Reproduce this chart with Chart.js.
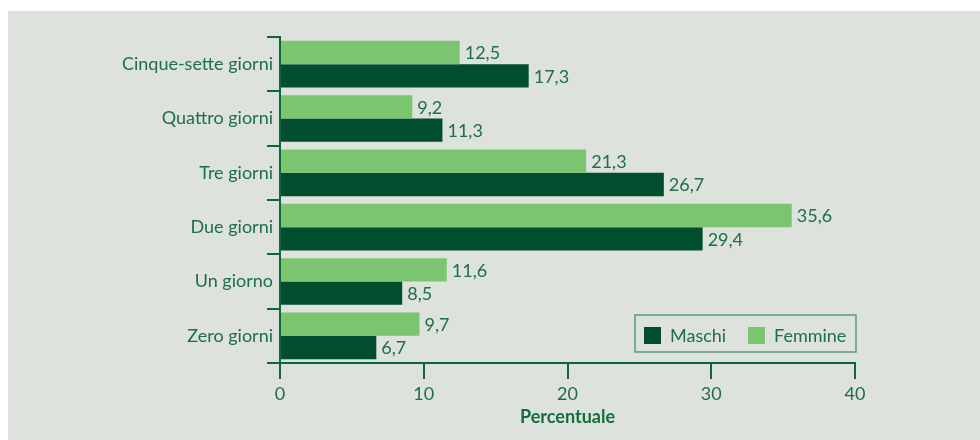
<!DOCTYPE html>
<html>
<head>
<meta charset="utf-8">
<script src="https://cdn.jsdelivr.net/npm/chart.js@4/dist/chart.umd.min.js"></script>
<style>
  html, body { margin: 0; padding: 0; background: #ffffff; }
  .panel { position: absolute; left: 8px; top: 11px; width: 972px; height: 429px; background: #dde2dc; }
</style>
</head>
<body>
<div class="panel">
  <canvas id="giorniChart" width="972" height="429"></canvas>
</div>
<script>
const categories = ['Cinque-sette giorni', 'Quattro giorni', 'Tre giorni', 'Due giorni', 'Un giorno', 'Zero giorni'];
const femmine = [12.5, 9.2, 21.3, 35.6, 11.6, 9.7];
const maschi = [17.3, 11.3, 26.7, 29.4, 8.5, 6.7];
const xTicks = [0, 10, 20, 30, 40];

const TEXT = '#1d6f45';
const AXIS = '#0a6a3a';
const FONT = 'Lato, "Open Sans", sans-serif';

const fmt = v => v.toFixed(1).replace('.', ',');

// numbers at the end of each bar
const valueLabels = {
  id: 'valueLabels',
  afterDatasetsDraw(chart) {
    const ctx = chart.ctx;
    ctx.save();
    ctx.font = '18px ' + FONT;
    ctx.fillStyle = TEXT;
    ctx.textAlign = 'left';
    ctx.textBaseline = 'middle';
    chart.data.datasets.forEach((ds, i) => {
      chart.getDatasetMeta(i).data.forEach((bar, j) => {
        ctx.fillText(fmt(ds.data[j]), bar.x + 5, bar.y + 1);
      });
    });
    ctx.restore();
  }
};

// boxed legend in the lower right corner of the plot
const boxLegend = {
  id: 'boxLegend',
  afterDraw(chart) {
    const ctx = chart.ctx;
    const area = chart.chartArea;
    const items = [chart.data.datasets[1], chart.data.datasets[0]];
    const w = 221, h = 37;
    const x0 = area.right - w + 1, y0 = area.bottom - 11 - h;
    ctx.save();
    ctx.strokeStyle = '#5c9a78';
    ctx.lineWidth = 1.5;
    ctx.strokeRect(x0, y0, w, h);
    ctx.font = '18px ' + FONT;
    ctx.textBaseline = 'middle';
    let x = x0 + 9;
    items.forEach(ds => {
      ctx.fillStyle = ds.backgroundColor;
      ctx.fillRect(x, y0 + 12, 17, 17);
      ctx.fillStyle = TEXT;
      ctx.fillText(ds.label, x + 26, y0 + 21);
      x += 104;
    });
    ctx.restore();
  }
};

new Chart(document.getElementById('giorniChart'), {
  type: 'bar',
  data: {
    labels: categories,
    datasets: [
      { label: 'Femmine', data: femmine, backgroundColor: '#7bc470' },
      { label: 'Maschi', data: maschi, backgroundColor: '#004d30' }
    ]
  },
  options: {
    indexAxis: 'y',
    responsive: false,
    animation: false,
    categoryPercentage: 0.86,
    barPercentage: 1.0,
    layout: { padding: { top: 26, right: 125, left: 0, bottom: 0 } },
    plugins: {
      legend: { display: false },
      tooltip: { enabled: false }
    },
    scales: {
      x: {
        min: 0,
        max: 40,
        afterBuildTicks: scale => { scale.ticks = xTicks.map(v => ({ value: v })); },
        afterFit: scale => { scale.height = 77; },
        grid: { drawOnChartArea: false, color: AXIS, lineWidth: 2, tickLength: 16 },
        border: { color: AXIS, width: 2 },
        ticks: { color: TEXT, font: { family: FONT, size: 18 }, padding: 4 },
        title: {
          display: true,
          text: 'Percentuale',
          color: '#10703c',
          font: { family: FONT, size: 18, weight: 'bold' },
          padding: { top: 0, bottom: 12 }
        }
      },
      y: {
        afterFit: scale => { scale.width = 272; },
        grid: { drawOnChartArea: false, color: AXIS, lineWidth: 2, tickLength: 13, offset: true },
        border: { color: AXIS, width: 2 },
        ticks: { color: TEXT, font: { family: FONT, size: 18 }, padding: -6 }
      }
    }
  },
  plugins: [valueLabels, boxLegend]
});
</script>
</body>
</html>
